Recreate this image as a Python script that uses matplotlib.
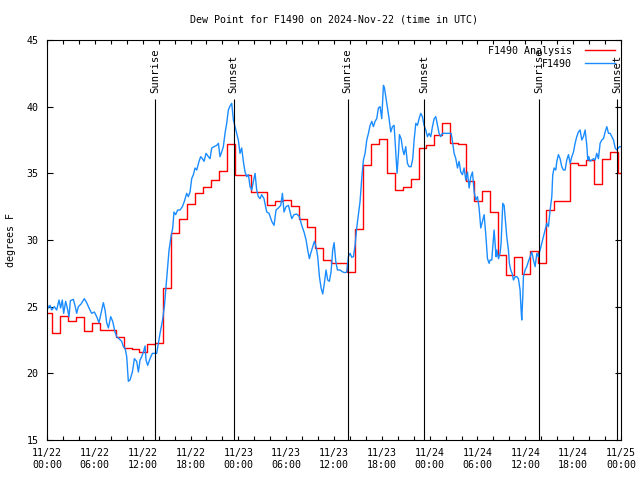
import numpy as np
import matplotlib
matplotlib.use("Agg")
import matplotlib.pyplot as plt
from matplotlib.ticker import MultipleLocator

plt.rcParams["font.family"] = ["DejaVu Sans Mono"]
plt.rcParams["font.size"] = 7.2

# hours after 2024-11-22 00:00 UTC
# analysis: one value per hour, first step begins at -0.4 h
analysis_start = -0.4
analysis_dewpt = [
    24.5, 23.0, 24.3, 23.9, 24.2, 23.2, 23.8, 23.25, 23.25, 22.7, 21.9, 21.8,
    21.6, 22.2, 22.3, 26.4, 30.5, 31.6, 32.7, 33.5, 34.0, 34.5, 35.2, 37.2,
    34.9, 34.9, 33.6, 33.6, 32.6, 32.9, 33.0, 32.55, 31.55, 30.95, 29.4, 28.5,
    28.25, 28.25, 27.6, 30.8, 35.6, 37.2, 37.6, 35.0, 33.75, 34.0, 34.55, 36.9,
    37.1, 37.9, 38.8, 37.25, 37.2, 34.4, 32.9, 33.7, 32.1, 28.9, 27.4, 28.75,
    27.45, 29.2, 28.3, 32.25, 32.9, 32.9, 35.75, 35.6, 36.0, 34.2, 36.1, 36.6,
    35.0,
]

obs_hours = [
    0.0, 0.17, 0.38, 0.59, 0.92, 1.21, 1.51, 1.71, 1.92, 2.09, 2.34, 2.51,
    2.76, 2.93, 3.30, 3.51, 3.72, 3.93, 4.27, 4.68, 4.98, 5.27, 5.60, 5.94,
    6.23, 6.52, 6.78, 7.07, 7.28, 7.49, 7.70, 7.99, 8.24, 8.53, 8.74, 9.03,
    9.37, 9.58, 9.79, 10.0, 10.2, 10.41, 10.71, 10.96, 11.25, 11.46, 11.67, 11.88,
    12.09, 12.3, 12.42, 12.63, 12.92, 13.22, 13.76, 13.97, 14.18, 14.47, 14.72, 14.89,
    15.14, 15.31, 15.56, 15.77, 15.93, 16.14, 16.39, 16.69, 16.98, 17.23, 17.52, 17.73,
    17.94, 18.15, 18.36, 18.57, 18.78, 19.07, 19.28, 19.49, 19.70, 19.95, 20.24, 20.45,
    20.66, 20.95, 21.29, 21.5, 21.7, 21.91, 22.12, 22.33, 22.54, 22.75, 22.96, 23.17,
    23.38, 23.59, 23.8, 24.0, 24.21, 24.42, 24.63, 24.84, 25.05, 25.26, 25.47, 25.68,
    25.89, 26.1, 26.3, 26.51, 26.72, 26.93, 27.22, 27.56, 27.85, 28.19, 28.48, 28.73,
    29.02, 29.32, 29.53, 29.73, 29.99, 30.28, 30.49, 30.7, 30.99, 31.32, 31.66, 31.95,
    32.24, 32.5, 32.7, 32.91, 33.08, 33.33, 33.54, 33.75, 33.96, 34.17, 34.38, 34.59,
    34.79, 35.0, 35.21, 35.42, 35.63, 35.84, 36.01, 36.22, 36.43, 36.76, 37.1, 37.39,
    37.6, 37.81, 38.02, 38.23, 38.44, 38.64, 38.85, 39.06, 39.27, 39.48, 39.69, 39.9,
    40.11, 40.32, 40.53, 40.74, 40.94, 41.15, 41.36, 41.57, 41.78, 41.99, 42.2, 42.33,
    42.49, 42.7, 42.91, 43.12, 43.33, 43.54, 43.75, 43.91, 44.08, 44.21, 44.42, 44.63,
    44.79, 45.0, 45.21, 45.42, 45.67, 45.88, 46.05, 46.26, 46.47, 46.67, 46.88, 47.09,
    47.3, 47.51, 47.72, 47.93, 48.14, 48.35, 48.56, 48.77, 48.98, 49.18, 49.39, 49.6,
    49.94, 50.36, 50.69, 50.86, 51.07, 51.28, 51.49, 51.69, 51.9, 52.11, 52.32, 52.53,
    52.74, 52.95, 53.16, 53.37, 53.58, 53.79, 54.0, 54.2, 54.41, 54.62, 54.83, 55.04,
    55.25, 55.46, 55.58, 55.79, 56.08, 56.33, 56.42, 56.63, 56.83, 56.96, 57.17, 57.34,
    57.46, 57.67, 57.88, 58.0, 58.17, 58.34, 58.51, 58.72, 58.93, 59.13, 59.34, 59.47,
    59.55, 59.68, 59.76, 59.97, 60.18, 60.39, 60.6, 60.81, 61.02, 61.23, 61.44, 61.64,
    61.85, 62.06, 62.27, 62.48, 62.69, 62.9, 63.11, 63.32, 63.44, 63.61, 63.82, 63.95,
    64.15, 64.36, 64.57, 64.78, 64.99, 65.2, 65.41, 65.62, 65.83, 66.04, 66.24, 66.45,
    66.66, 66.87, 67.08, 67.29, 67.5, 67.71, 67.83, 67.96, 68.13, 68.34, 68.55, 68.75,
    68.96, 69.17, 69.38, 69.59, 69.8, 70.01, 70.22, 70.43, 70.64, 70.85, 71.06, 71.27,
    71.48, 71.8, 72.0,
]
obs_dewpt = [
    25.25, 24.9, 25.1, 24.75, 25.0, 24.75, 25.5, 24.9, 25.5, 24.5, 25.4, 25.0,
    24.25, 25.45, 25.55, 25.1, 24.5, 25.0, 25.2, 25.6, 25.3, 24.9, 24.5, 24.6,
    24.25, 23.8, 24.5, 25.3, 24.75, 23.8, 23.4, 24.25, 23.9, 23.1, 22.75, 22.6,
    22.4, 22.0, 21.9, 21.25, 19.4, 19.5, 20.1, 21.1, 20.9, 20.1, 21.0, 21.25,
    21.6, 22.05, 21.0, 20.6, 21.1, 21.5, 21.5, 22.25, 23.0, 23.9, 25.0, 26.25,
    28.0, 29.25, 30.25, 30.9, 32.1, 31.9, 32.25, 32.25, 32.5, 32.9, 33.5, 33.25,
    33.6, 34.6, 34.9, 35.4, 35.25, 35.9, 36.25, 36.1, 35.9, 36.5, 36.25, 36.1,
    36.9, 37.0, 37.1, 37.25, 36.25, 36.6, 37.0, 38.0, 38.75, 39.75, 40.05, 40.25,
    39.0, 38.5, 38.0, 37.5, 36.5, 36.9, 35.9, 35.1, 34.75, 34.9, 34.0, 33.75,
    34.4, 35.0, 33.75, 33.25, 33.1, 33.4, 33.1, 32.1, 32.0, 31.4, 31.1, 32.25,
    32.4, 32.6, 33.5, 32.1, 32.5, 32.6, 32.1, 31.6, 31.9, 31.95, 31.75, 31.1,
    30.6, 30.0, 29.25, 28.6, 29.0, 29.5, 29.9, 29.5, 28.75, 27.25, 26.4, 25.95,
    26.75, 27.75, 27.0, 26.9, 27.6, 29.25, 29.8, 28.4, 27.75, 27.75, 27.6, 27.55,
    27.6, 28.75, 29.0, 28.7, 28.75, 29.6, 30.9, 31.9, 32.9, 34.6, 36.0, 36.5,
    37.5, 38.0, 38.6, 38.9, 38.5, 38.9, 39.1, 39.9, 40.0, 39.1, 41.6, 41.4,
    40.75, 39.9, 39.1, 38.1, 38.5, 38.6, 36.6, 35.0, 36.4, 37.9, 37.6, 36.75,
    36.4, 37.0, 35.75, 35.5, 35.5, 36.1, 37.5, 38.75, 38.6, 39.1, 39.5, 39.25,
    38.6, 38.25, 37.75, 38.0, 37.75, 38.5, 39.1, 39.25, 38.6, 38.0, 37.75, 38.0,
    38.0, 38.0, 38.0, 37.4, 36.5, 36.1, 35.4, 35.9, 35.1, 34.9, 35.4, 34.5,
    35.1, 33.9, 34.75, 35.1, 33.6, 33.0, 33.25, 32.4, 30.9, 31.4, 31.9, 30.4,
    28.6, 28.25, 28.5, 28.5, 30.75, 28.75, 29.25, 28.6, 29.0, 29.75, 32.75, 32.6,
    31.75, 30.25, 29.25, 28.25, 27.75, 27.5, 27.0, 27.25, 27.25, 27.1, 26.25, 24.75,
    24.0, 25.75, 27.25, 27.75, 28.0, 28.4, 28.75, 29.1, 28.5, 28.0, 29.0, 28.75,
    29.25, 29.75, 30.25, 30.75, 31.25, 31.0, 32.25, 33.25, 34.9, 35.4, 35.25, 35.9,
    36.4, 36.1, 35.5, 35.25, 35.25, 36.0, 36.4, 35.75, 36.25, 36.6, 37.25, 37.75,
    38.1, 38.25, 37.5, 37.75, 38.25, 37.1, 36.0, 36.25, 35.9, 36.0, 36.1, 36.0,
    36.5, 36.1, 37.25, 37.5, 37.6, 38.1, 38.5, 38.0, 38.0, 37.75, 37.5, 36.9,
    36.75, 37.0, 37.0,
]

sunrise_hours = [13.6, 37.7, 61.75]
sunset_hours = [23.4, 47.35, 71.5]

tick_labels = [
    "11/22\n00:00", "11/22\n06:00", "11/22\n12:00", "11/22\n18:00",
    "11/23\n00:00", "11/23\n06:00", "11/23\n12:00", "11/23\n18:00",
    "11/24\n00:00", "11/24\n06:00", "11/24\n12:00", "11/24\n18:00",
    "11/25\n00:00",
]

fig = plt.figure(figsize=(6.4, 4.8), dpi=100)
ax = fig.add_axes([47 / 640, 40 / 480, 574 / 640, 400 / 480])

# analysis as hourly steps, last value held for its full hour
a_times = analysis_start + np.arange(len(analysis_dewpt) + 1)
a_vals = np.append(analysis_dewpt, analysis_dewpt[-1])
ax.step(a_times, a_vals, where="post", color="#ff0000", lw=1.0,
        label="F1490 Analysis")
ax.plot(obs_hours, obs_dewpt, color="#1a8cff", lw=1.0, label="F1490")

line_top = 40.55
for h in sunrise_hours:
    ax.vlines(h, 15, line_top, color="black", lw=0.8, zorder=3)
    ax.text(h, 41.0, "Sunrise", rotation=90, ha="center", va="bottom",
            fontsize=7.6)
for h in sunset_hours:
    ax.vlines(h, 15, line_top, color="black", lw=0.8, zorder=3)
    ax.text(h, 41.0, "Sunset", rotation=90, ha="center", va="bottom",
            fontsize=7.6)

ax.set_xlim(0, 72)
ax.set_ylim(15, 45)
ax.set_xticks(np.arange(0, 73, 6))
ax.set_xticklabels(tick_labels)
ax.xaxis.set_minor_locator(MultipleLocator(2))
ax.yaxis.set_major_locator(MultipleLocator(5))
ax.tick_params(axis="both", which="both", direction="in", top=True, right=True,
               width=0.8, color="black")
ax.tick_params(axis="x", which="both", length=3, pad=6)
ax.tick_params(axis="y", which="major", length=4, pad=6)
for s in ax.spines.values():
    s.set_linewidth(0.8)

ax.set_ylabel("degrees F", labelpad=8)
fig.text(334 / 640, 1 - 20 / 480, "Dew Point for F1490 on 2024-Nov-22 (time in UTC)",
         ha="center", va="center")

ax.legend(loc="upper right", bbox_to_anchor=(0.997, 0.995), frameon=False,
          markerfirst=False, handlelength=3.0, handletextpad=1.3,
          labelspacing=0.3, borderaxespad=0.1, borderpad=0.3)

fig.savefig("out.png", dpi=100)
